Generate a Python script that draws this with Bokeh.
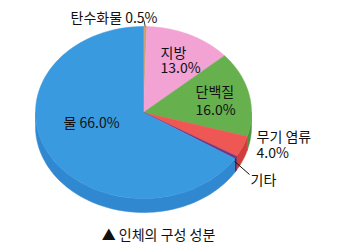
import numpy as np
from bokeh.plotting import figure
from bokeh.models import Range1d, ColumnDataSource
from bokeh.core.properties import value
from bokeh.embed import file_html
from bokeh.resources import INLINE

# Data
labels = ["탄수화물", "지방", "단백질", "무기 염류", "기타", "물"]
values = [0.5, 13.0, 16.0, 4.0, 0.5, 66.0]
pct_text = ["0.5%", "13.0%", "16.0%", "4.0%", "", "66.0%"]
top_colors = ["#C9A27A", "#F2A3D4", "#66B04E", "#EE5753", "#6A3A86", "#3A9AE0"]
side_colors = ["#A8845E", "#D58AB8", "#4F9140", "#D03E3C", "#4E2466", "#3088D0"]
title = "▲ 인체의 구성 성분"

# Geometry (pixel units)
cx, cy, rx, ry, depth = 143.0, 112.0, 108.0, 86.0, 14.0
FONT = value("Noto Sans CJK KR")

p = figure(width=337, height=243, x_range=Range1d(0, 337), y_range=Range1d(243, 0),
           x_axis_type=None, y_axis_type=None, toolbar_location=None,
           output_backend="svg", min_border=0, outline_line_color=None)
p.grid.visible = False

total = sum(values)
bounds = np.concatenate([[0], np.cumsum(values)]) / total * 2 * np.pi

def ex(t):
    return cx + rx * np.sin(t)

def ey(t, off=0.0):
    return cy - ry * np.cos(t) + off

# Side walls (visible front half: pi/2..3pi/2)
sx, sy, sc = [], [], []
for i in range(len(values)):
    a0 = max(bounds[i], np.pi / 2)
    a1 = min(bounds[i + 1], 3 * np.pi / 2)
    if a1 <= a0:
        continue
    t = np.linspace(a0, a1, 80)
    xs = list(ex(t)) + list(ex(t[::-1]))
    ys = list(ey(t)) + list(ey(t[::-1], depth))
    sx.append(xs); sy.append(ys); sc.append(side_colors[i])
p.patches(xs="xs", ys="ys", fill_color="c", line_color="c", line_width=0.5,
          source=ColumnDataSource(dict(xs=sx, ys=sy, c=sc)))

# Top faces
tx, ty = [], []
for i in range(len(values)):
    t = np.linspace(bounds[i], bounds[i + 1], 120)
    tx.append([cx] + list(ex(t)))
    ty.append([cy] + list(ey(t)))
p.patches(xs="xs", ys="ys", fill_color="c", line_color="c", line_width=0.5,
          source=ColumnDataSource(dict(xs=tx, ys=ty, c=top_colors)))

# Leader lines
m0 = (bounds[0] + bounds[1]) / 2
p.line([ex(m0), 143.5], [ey(m0), 20], line_color="#333333", line_width=1)
m4 = (bounds[4] + bounds[5]) / 2
p.line([ex(m4) - 1, 249], [ey(m4) + 4, 174], line_color="#111111", line_width=1)

# Labels
lx = [70, 160, 160, 195, 195, 256, 256, 250, 63]
ly = [16, 51, 66, 90, 108, 135, 151, 178, 121]
lt = [labels[0] + " " + pct_text[0], labels[1], pct_text[1], labels[2], pct_text[2],
      labels[3], pct_text[3], labels[4], labels[5] + " " + pct_text[5]]
p.text(x=lx, y=ly, text=lt, text_font=FONT, text_font_size="14px",
       text_baseline="middle", text_align="left", text_color="#111111")

p.text(x=[158], y=[233], text=[title], text_font=FONT, text_font_size="14px",
       text_baseline="middle", text_align="center", text_color="#111111")

open("out.html", "w").write(file_html(p, INLINE))
